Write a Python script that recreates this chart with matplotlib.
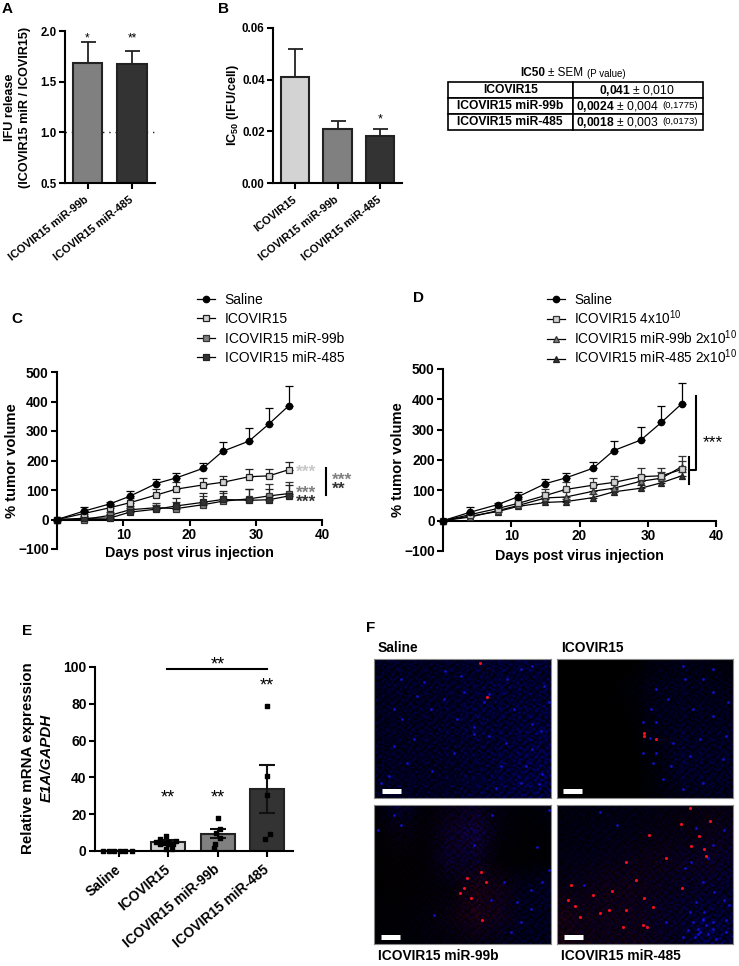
import numpy as np
import matplotlib
matplotlib.use("Agg")
import matplotlib.pyplot as plt

plt.rcParams['font.family'] = ['Liberation Sans', 'DejaVu Sans']
plt.rcParams['mathtext.fontset'] = 'custom'
plt.rcParams['mathtext.rm'] = 'Liberation Sans'
plt.rcParams['mathtext.bf'] = 'Liberation Sans:bold'
plt.rcParams['mathtext.default'] = 'regular'

W, H = 739, 966

# ============================
# Data
# ============================
a_labels = ["ICOVIR15 miR-99b", "ICOVIR15 miR-485"]
a_values = [1.68, 1.67]
a_err = [0.21, 0.13]

b_labels = ["ICOVIR15", "ICOVIR15 miR-99b", "ICOVIR15 miR-485"]
b_values = [0.041, 0.021, 0.018]
b_err = [0.011, 0.003, 0.003]

table_names = ["ICOVIR15", "ICOVIR15 miR-99b", "ICOVIR15 miR-485"]
table_ic50 = ["0{,}041", "0{,}0024", "0{,}0018"]
table_sem = ["0,010", "0,004", "0,003"]
table_p = ["", "(0,1775)", "(0,0173)"]

days = [0, 4, 8, 11, 15, 18, 22, 25, 29, 32, 35]
saline = [0, 28, 53, 79, 122, 141, 173, 231, 266, 324, 386]
saline_err = [0, 16, 6, 17, 15, 17, 20, 32, 44, 54, 68]
ico15 = [0, 20, 40, 57, 83, 103, 117, 126, 145, 148, 169]
ico15_err = [0, 8, 10, 15, 22, 25, 25, 22, 27, 24, 27]
c_99b = [0, 0, 14, 33, 40, 37, 50, 62, 70, 80, 88]
c_99b_err = [0, 10, 10, 12, 16, 23, 30, 28, 33, 40, 40]
c_485 = [0, 4, 5, 25, 35, 46, 58, 68, 65, 67, 80]
c_485_err = [0, 8, 13, 15, 15, 28, 32, 30, 40, 38, 38]
d_99b = [0, 12, 33, 50, 75, 78, 97, 107, 130, 140, 178]
d_99b_err = [0, 10, 8, 10, 18, 20, 20, 18, 20, 22, 34]
d_485 = [0, 15, 30, 47, 60, 63, 76, 95, 107, 125, 148]
d_485_err = [0, 8, 6, 7, 10, 10, 12, 10, 12, 12, 14]

e_labels = ["Saline", "ICOVIR15", "ICOVIR15 miR-99b", "ICOVIR15 miR-485"]
e_values = [0, 5, 9.3, 33.5]
e_err = [0, 1.2, 2.5, 13]
e_groups = [0, 0, 0, 0, 0, 0,
            1, 1, 1, 1, 1, 1, 1, 1, 1, 1, 1, 1,
            2, 2, 2, 2, 2, 2,
            3, 3, 3, 3, 3]
e_offsets = [-0.31, -0.2, -0.09, 0.02, 0.13, 0.27,
             -0.16, -0.05, 0.0, -0.24, -0.1, 0.1, 0.16, -0.16, 0.0, 0.06, -0.05, 0.08,
             0.0, 0.05, -0.04, 0.05, -0.05, -0.08,
             0.0, 0.0, 0.0, 0.05, -0.05]
e_points = [0, 0, 0, 0, 0, 0,
            6.5, 8, 5, 5, 4.5, 4, 5.5, 4, 4, 4, 1, 1,
            18, 12, 10, 7, 4, 1.5,
            79, 40.5, 30.5, 9.5, 6.5]

f_titles = ["Saline", "ICOVIR15", "ICOVIR15 miR-99b", "ICOVIR15 miR-485"]
# coarse blue/red haze of each micrograph, read by eye
f_blue = [
    [[45, 50, 45, 50, 55, 60, 65, 60], [45, 50, 50, 55, 60, 70, 65, 65], [45, 45, 50, 55, 70, 65, 70, 75],
     [45, 45, 50, 55, 60, 65, 75, 80], [45, 50, 45, 50, 60, 70, 80, 85], [45, 45, 50, 50, 65, 70, 80, 80]],
    [[0, 0, 0, 0, 20, 30, 25, 10], [0, 0, 0, 10, 35, 40, 35, 30], [0, 0, 0, 5, 35, 40, 40, 40],
     [0, 0, 0, 0, 25, 50, 45, 50], [0, 0, 0, 0, 15, 55, 50, 45], [0, 0, 0, 0, 15, 30, 40, 40]],
    [[8, 55, 8, 25, 40, 20, 8, 25], [5, 20, 10, 45, 75, 15, 5, 8], [3, 5, 8, 50, 45, 5, 5, 5],
     [3, 5, 8, 15, 25, 30, 35, 50], [5, 8, 15, 20, 30, 35, 40, 40], [5, 8, 15, 20, 25, 35, 40, 40]],
    [[20, 20, 25, 25, 25, 20, 20, 25], [20, 25, 30, 25, 25, 25, 30, 40], [25, 30, 30, 30, 30, 40, 45, 50],
     [25, 30, 30, 30, 35, 45, 50, 55], [25, 30, 30, 35, 45, 50, 60, 60], [20, 25, 35, 30, 40, 45, 85, 70]],
]
f_red = [
    [[0] * 8] * 6,
    [[0] * 8] * 6,
    [[3, 3, 3, 10, 15, 5, 0, 0], [5, 10, 5, 20, 25, 5, 0, 0], [3, 10, 5, 15, 15, 3, 0, 0],
     [0, 5, 5, 5, 40, 25, 0, 0], [0, 3, 5, 15, 45, 25, 0, 0], [0, 0, 3, 5, 10, 5, 0, 0]],
    [[0, 0, 0, 3, 5, 8, 15, 12], [0, 0, 3, 5, 10, 10, 15, 15], [5, 5, 10, 15, 20, 15, 20, 10],
     [15, 15, 25, 25, 15, 10, 8, 5], [40, 25, 25, 25, 15, 8, 3, 0], [40, 25, 20, 25, 15, 5, 0, 0]],
]
# grain of the nuclei staining, one digit per cell
f_grain = [
    "0300104002010",
    "1002000310402",
    "0040130000120",
    "2001000402001",
    "0100302001030",
    "3000010300104",
    "0020400010200",
    "1000102003001",
    "0403000100020",
    "0010020040300",
    "2000301001002",
]
f_grain2 = [
    "210021102",
    "012200121",
    "120112002",
    "201020211",
    "002211012",
    "121002120",
    "210120201",
]
# bright spots, x and y in a 531 x 416 image frame
f_red_x = [
    [318, 340],
    [262, 262, 300],
    [322, 279, 337, 269, 292, 325, 257],
    [41, 32, 54, 69, 109, 166, 209, 237, 261, 209, 272, 259, 199, 329, 374, 401, 461, 444, 451, 404, 427, 377,
     279, 157, 129, 289],
]
f_red_y = [
    [13, 115],
    [231, 222, 238],
    [201, 219, 231, 247, 279, 344, 264],
    [239, 284, 301, 334, 269, 256, 172, 224, 277, 314, 364, 359, 366, 159, 56, 10, 47, 132, 154, 122, 92, 247,
     89, 314, 324, 304],
]
f_blue_x = [
    [440, 475, 510, 212, 260, 345, 300, 475, 420, 170, 130, 80, 120, 240, 395, 380, 455, 500, 250, 175, 60, 100,
     330, 270, 400, 505, 60, 20, 440, 475, 365, 300, 210, 150, 85, 45, 495, 525, 345],
    [385, 335, 470, 440, 515, 380, 285, 300, 300, 260, 290, 345, 400, 430, 500, 470, 280, 350, 410, 470, 510,
     320, 440, 380, 300, 260],
    [60, 80, 12, 355, 525, 505, 470, 430, 390, 350, 470, 440, 410, 300, 180, 525, 490],
    [420, 475, 505, 470, 440, 385, 330, 380, 425, 510, 510, 480, 445, 420, 405, 505, 470, 520, 455, 180, 130, 80,
     395, 410, 425, 440, 455, 470, 400, 430, 450, 415, 440],
]
f_blue_y = [
    [30, 20, 80, 35, 50, 105, 205, 195, 150, 150, 110, 60, 240, 280, 250, 320, 320, 215, 180, 335, 260, 310,
     130, 100, 60, 345, 150, 370, 370, 270, 385, 225, 120, 70, 180, 350, 375, 130, 230],
    [60, 120, 100, 60, 130, 20, 150, 190, 280, 280, 310, 320, 290, 240, 300, 170, 235, 250, 150, 30, 230,
     360, 370, 390, 90, 190],
    [30, 60, 75, 30, 195, 230, 255, 290, 230, 285, 310, 350, 380, 120, 330, 15, 125],
    [290, 260, 285, 350, 230, 190, 350, 395, 385, 345, 380, 400, 320, 70, 170, 75, 120, 300, 160, 60, 20, 240,
     375, 350, 370, 340, 385, 370, 320, 380, 360, 395, 345],
]

# ============================
# Helpers
# ============================
fig = plt.figure(figsize=(W / 100, H / 100), dpi=100, facecolor="white")


def px_axes(left, top, right, bottom):
    return fig.add_axes([left / W, 1 - bottom / H, (right - left) / W, (bottom - top) / H])


def panel(x, y, s):
    fig.text(x / W, 1 - y / H, s, fontsize=11, fontweight="bold", ha="left", va="center")


def clean(ax, lw=1.5):
    ax.spines["top"].set_visible(False)
    ax.spines["right"].set_visible(False)
    ax.spines["left"].set_linewidth(lw)
    ax.spines["bottom"].set_linewidth(lw)
    ax.tick_params(width=lw, length=4, pad=2)
    ax.patch.set_alpha(0)


def bars(ax, values, err, colors, width, labels, size):
    pos = np.arange(len(values))
    ax.bar(pos, values, width=width, color=colors, edgecolor="#222222", linewidth=1.5, zorder=2)
    ax.errorbar(pos, values, yerr=[np.zeros(len(err)), err], fmt="none", ecolor="#222222", elinewidth=1.3,
                capsize=5.4, capthick=1.3, zorder=1)
    ax.set_xticks(pos)
    ax.set_xticklabels(labels, rotation=38, ha="right", va="center", rotation_mode="anchor", fontsize=size,
                       fontweight="bold")


def growth(ax, series, errors, styles, labels):
    handles = []
    for y, e, st, lab in zip(series, errors, styles, labels):
        ax.errorbar(days, y, yerr=[np.zeros(len(e)), e], fmt="none", ecolor=st[2], elinewidth=0.9,
                    capsize=3, capthick=0.9, clip_on=False, zorder=st[3])
        ln, = ax.plot(days, y, color="black", lw=0.9, marker=st[0], mfc=st[1], mec=st[2], mew=0.9, ms=st[4],
                      label=lab, clip_on=False, zorder=st[3] + 0.5)
        handles.append(ln)
    ax.set_xlim(0, 40)
    ax.set_ylim(-100, 500)
    ax.set_xticks([10, 20, 30, 40])
    ax.set_yticks([-100, 0, 100, 200, 300, 400, 500])
    ax.spines["bottom"].set_position(("data", 0))
    clean(ax)
    ax.tick_params(labelsize=9.8)
    for t in ax.get_xticklabels() + ax.get_yticklabels():
        t.set_fontweight("bold")
    ax.set_xlabel("Days post virus injection", fontsize=10.3, fontweight="bold", va="center")
    ax.set_ylabel("% tumor volume", fontsize=10.6, fontweight="bold", labelpad=-0.5)
    return handles


def smooth(grid, rows, cols):
    # pasar la rejilla gruesa a la resolucion de la imagen
    grid = np.array(grid, dtype=float)
    yy = np.linspace(0, grid.shape[0] - 1, rows)
    xx = np.linspace(0, grid.shape[1] - 1, cols)
    by_col = np.array([np.interp(xx, np.arange(grid.shape[1]), r) for r in grid])
    return np.array([np.interp(yy, np.arange(grid.shape[0]), c) for c in by_col.T]).T


# ============================
# A
# ============================
panel(2, 9, "A")
ax = px_axes(65, 31, 155, 183)
ax.axhline(1.0, color="#222222", lw=1.0, ls=(0, (1, 3.5)), zorder=0)
bars(ax, a_values, a_err, ["#808080", "#333333"], 0.66, a_labels, 8)
ax.set_xlim(-0.506, 1.517)
ax.set_ylim(0.5, 2.0)
ax.set_yticks([0.5, 1.0, 1.5, 2.0])
clean(ax)
ax.tick_params(axis="x", pad=7)
ax.tick_params(axis="y", labelsize=8.3)
for t in ax.get_yticklabels():
    t.set_fontweight("bold")
ax.set_ylabel("IFU release\n(ICOVIR15 miR / ICOVIR15)", fontsize=9.1, fontweight="bold", labelpad=7, linespacing=1.25)
ax.text(0, 1.93, "*", ha="center", va="center", fontsize=8.5)
ax.text(1, 1.93, "**", ha="center", va="center", fontsize=8.5)

# ============================
# B
# ============================
panel(218, 9, "B")
ax = px_axes(273, 28, 402, 183)
bars(ax, b_values, b_err, ["#d3d3d3", "#808080", "#333333"], 0.68, b_labels, 8)
ax.set_xlim(-0.52, 2.52)
ax.set_ylim(0, 0.06)
ax.set_yticks([0, 0.02, 0.04, 0.06])
ax.set_yticklabels(["0.00", "0.02", "0.04", "0.06"])
clean(ax)
ax.tick_params(axis="x", pad=7)
ax.tick_params(axis="y", labelsize=8.3)
for t in ax.get_yticklabels():
    t.set_fontweight("bold")
ax.set_ylabel(r"IC$_{\mathbf{50}}$ (IFU/cell)", fontsize=9.2, fontweight="bold", labelpad=1)
ax.text(2, 0.0245, "*", ha="center", va="center", fontsize=9)

# ============================
# Tabla IC50
# ============================
ax = px_axes(448, 82, 703, 130)
ax.axis("off")
cells = [[n, ""] for n in table_names]
tab = ax.table(cellText=cells, colWidths=[124.5 / 255, 130.5 / 255], bbox=[0, 0, 1, 1], cellLoc="center")
tab.auto_set_font_size(False)
for (r, c), cell in tab.get_celld().items():
    cell.set_linewidth(1.2)
    cell.get_text().set_fontsize(8.7)
    cell.get_text().set_fontweight("bold")
for i in range(3):
    y = 1 - (i + 0.5) / 3
    txt = r"$\mathbf{" + table_ic50[i] + "}$ ± " + table_sem[i]
    if table_p[i]:
        ax.text(0.824, y, txt, transform=ax.transAxes, ha="right", va="center", fontsize=8.7)
        ax.text(0.84, y, table_p[i], transform=ax.transAxes, ha="left", va="center", fontsize=6.8)
    else:
        ax.text(0.74, y, txt, transform=ax.transAxes, ha="center", va="center", fontsize=8.7)
ax.text(0.282, 1.055, "IC50", transform=ax.transAxes, ha="left", va="bottom", fontsize=8.5, fontweight="bold")
ax.text(0.392, 1.055, "± SEM", transform=ax.transAxes, ha="left", va="bottom", fontsize=8.5)
ax.text(0.545, 1.055, "(P value)", transform=ax.transAxes, ha="left", va="bottom", fontsize=7)

# ============================
# C
# ============================
panel(11, 319, "C")
ax = px_axes(57, 372, 322, 549)
labels_c = ["Saline", "ICOVIR15", "ICOVIR15 miR-99b", "ICOVIR15 miR-485"]
styles_c = [("o", "black", "black", 5, 4.6), ("s", "#d3d3d3", "#222222", 4, 4.4),
            ("s", "#808080", "#333333", 3, 4.4), ("s", "#333333", "#222222", 3.2, 4.4)]
hs = growth(ax, [saline, ico15, c_99b, c_485], [saline_err, ico15_err, c_99b_err, c_485_err], styles_c, labels_c)
ax.xaxis.set_label_coords(0.5, -0.02)
ax.legend(handles=hs, loc="upper left", bbox_to_anchor=(0.528, 1.446), frameon=False, fontsize=10,
          labelspacing=0.38, handlelength=1.3, handletextpad=0.7, borderpad=0, borderaxespad=0)
ax.plot([40.6, 40.6], [82, 176], color="black", lw=1.5, clip_on=False)
ax.text(37.6, 160, "***", color="#c8c8c8", ha="center", va="center", fontsize=12.5, fontweight="bold")
ax.text(37.6, 90, "***", color="#808080", ha="center", va="center", fontsize=12.5, fontweight="bold")
ax.text(37.6, 59, "***", color="#333333", ha="center", va="center", fontsize=12.5, fontweight="bold")
ax.text(43.0, 134, "***", color="#808080", ha="center", va="center", fontsize=12.5, fontweight="bold")
ax.text(42.5, 101, "**", color="#333333", ha="center", va="center", fontsize=12.5, fontweight="bold")

# ============================
# D
# ============================
panel(413, 298, "D")
ax = px_axes(443, 369, 716, 551)
labels_d = ["Saline", "ICOVIR15 4x10$^{10}$", "ICOVIR15 miR-99b 2x10$^{10}$", "ICOVIR15 miR-485 2x10$^{10}$"]
styles_d = [("o", "black", "black", 5, 4.6), ("s", "#d3d3d3", "#333333", 4.2, 4.8),
            ("^", "#808080", "#333333", 3.2, 4.6), ("^", "#333333", "#222222", 3, 4.6)]
hs = growth(ax, [saline, ico15, d_99b, d_485], [saline_err, ico15_err, d_99b_err, d_485_err], styles_d, labels_d)
ax.xaxis.set_label_coords(0.5, -0.027)
ax.legend(handles=hs, loc="upper left", bbox_to_anchor=(0.381, 1.418), frameon=False, fontsize=9.8,
          labelspacing=0.09, handlelength=1.3, handletextpad=0.7, borderpad=0, borderaxespad=0)
ax.plot([37.07, 37.07, 36.0], [412, 168, 168], color="black", lw=1.5, clip_on=False)
ax.plot([36.0, 36.0], [122, 210], color="black", lw=1.5, clip_on=False)
ax.text(39.6, 258, "***", ha="center", va="center", fontsize=12.5)

# ============================
# E
# ============================
panel(22, 631, "E")
ax = px_axes(95, 667, 293, 851)
ax.bar(range(4), e_values, width=0.68, color=["white", "#d3d3d3", "#808080", "#333333"], edgecolor="#222222",
       linewidth=1.5, zorder=2)
ax.errorbar(range(1, 4), e_values[1:], yerr=e_err[1:], fmt="none", ecolor="#111111", elinewidth=1.5,
            capsize=6, capthick=1.5, zorder=3)
ax.scatter(np.array(e_groups) + np.array(e_offsets), e_points, marker="s", s=8, color="black", zorder=4,
           clip_on=False)
ax.set_xlim(-0.48, 3.52)
ax.set_ylim(0, 100)
ax.set_xticks(range(4))
ax.set_xticklabels(e_labels, rotation=40, ha="right", va="center", rotation_mode="anchor", fontsize=9.9,
                   fontweight="bold")
ax.set_yticks([0, 20, 40, 60, 80, 100])
clean(ax)
ax.tick_params(axis="x", pad=8)
ax.tick_params(axis="y", labelsize=10)
for t in ax.get_yticklabels():
    t.set_fontweight("bold")
ax.plot([0.97, 2.99], [98.7, 98.7], color="black", lw=1.5, clip_on=False)
ax.text(2, 101, "**", ha="center", va="center", fontsize=13, clip_on=False)
ax.text(3, 89.8, "**", ha="center", va="center", fontsize=13)
ax.text(1, 29, "**", ha="center", va="center", fontsize=13)
ax.text(2, 29, "**", ha="center", va="center", fontsize=13)
fig.text(28 / W, 1 - 758 / H, "Relative mRNA expression", rotation=90, fontsize=10.9, fontweight="bold",
         ha="center", va="center")
fig.text(47 / W, 1 - 758 / H, "E1A/GAPDH", rotation=90, fontsize=10.9, fontweight="bold", style="italic",
         ha="center", va="center")

# ============================
# F
# ============================
panel(366, 628, "F")
boxes = [(374, 659, 551, 798), (557, 659, 733, 798), (374, 805, 551, 944), (557, 805, 733, 944)]
scale_bars = [(24, 81), (17, 74), (21, 78), (21, 78)]
title_pos = [(378, 648), (561, 648), (378, 956), (561, 956)]
grain = np.array([[int(c) for c in row] for row in f_grain], dtype=float)
grain2 = np.array([[int(c) for c in row] for row in f_grain2], dtype=float)
rows, cols = 66, 88
# dos tramas de periodo distinto para que no se vea la repeticion
tile = (np.tile(grain, (7, 7))[:rows, :cols] * 0.5 + np.tile(grain2, (10, 10))[:rows, :cols] ** 2 * 0.28)
tile_r = tile[::-1, ::-1]
for i, box in enumerate(boxes):
    ax = px_axes(*box)
    blue = smooth(f_blue[i], rows, cols)
    red = smooth(f_red[i], rows, cols)
    img = np.zeros((rows, cols, 3))
    img[:, :, 0] = red * tile_r * 0.55 / 255
    img[:, :, 2] = blue * tile * 0.8 / 255
    ax.imshow(np.clip(img, 0, 1), extent=[0, 531, 416, 0], aspect="auto", interpolation="bilinear")
    ax.scatter(f_blue_x[i], f_blue_y[i], s=4, color="#1010c8", linewidths=0)
    ax.scatter(f_red_x[i], f_red_y[i], s=5, color="#f01020", linewidths=0)
    ax.plot(scale_bars[i], [396, 396], color="white", lw=3.6, solid_capstyle="butt")
    ax.set_xlim(0, 531)
    ax.set_ylim(416, 0)
    ax.set_xticks([])
    ax.set_yticks([])
    for s in ax.spines.values():
        s.set_color("#888888")
        s.set_linewidth(0.8)
    fig.text(title_pos[i][0] / W, 1 - title_pos[i][1] / H, f_titles[i], fontsize=9.9, fontweight="bold",
             ha="left", va="center")

fig.savefig("out.png", dpi=100)
